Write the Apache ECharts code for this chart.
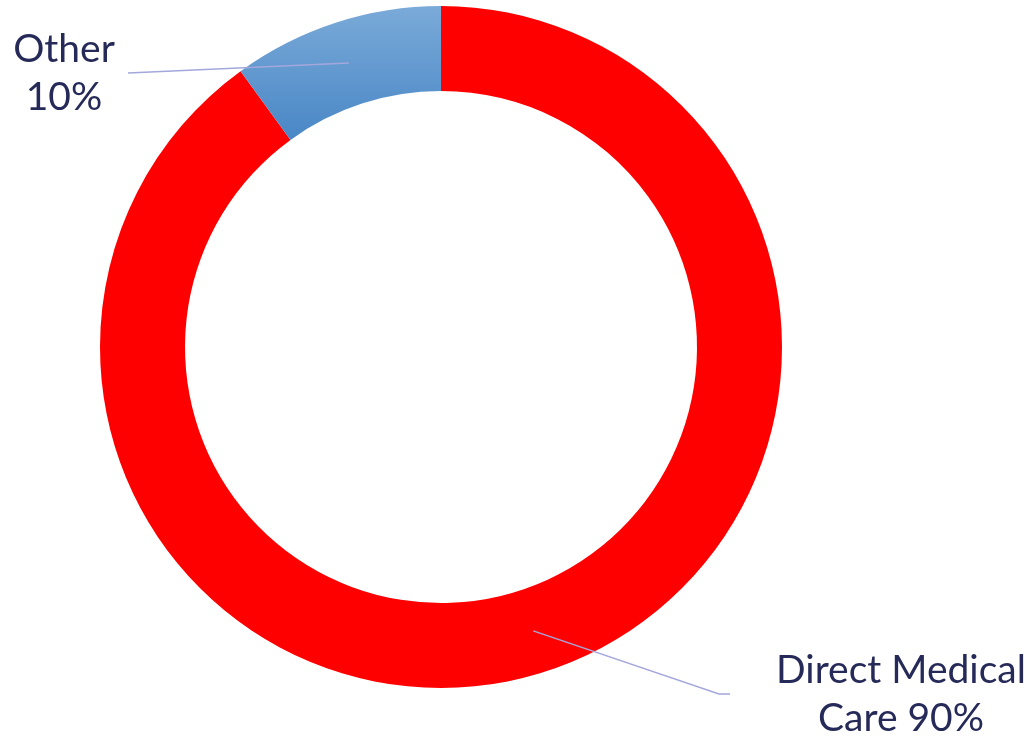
<!DOCTYPE html>
<html>
<head>
<meta charset="utf-8">
<script src="https://cdn.jsdelivr.net/npm/echarts@6/dist/echarts.min.js"></script>
<style>
  html, body { margin: 0; padding: 0; background: #fff; }
  #chart { width: 1036px; height: 738px; }
</style>
</head>
<body>
<div id="chart"></div>
<script>
// data
const categories = ['Direct Medical Care', 'Other']
const values = [90, 10]
const sliceColors = ['#ff0000', null] // Other uses a gradient

// ring geometry
const centerX = 441
const centerY = 347
const innerR = 256
const outerR = 341
const midR = (innerR + outerR) / 2

// label centres and leader line bends
const labelCentres = [[901, 694], [64, 73]]
const lineBends = [[[719, 694], [730, 694]], [[128, 73]]]

const total = values.reduce((a, b) => a + b, 0)

// mid point of a slice on the ring (start at 12 o'clock, clockwise)
const midPoint = (i) => {
  let before = 0
  for (let k = 0; k < i; k++) before += values[k]
  const deg = 90 - 360 * (before + values[i] / 2) / total
  const rad = deg * Math.PI / 180
  return [centerX + midR * Math.cos(rad), centerY - midR * Math.sin(rad)]
}

const otherGradient = new echarts.graphic.LinearGradient(0, 0, 0, 1, [
  { offset: 0, color: '#7aaad8' },
  { offset: 1, color: '#4987c6' }
])

const chart = echarts.init(document.getElementById('chart'))

const baseSeries = {
  type: 'pie',
  center: [centerX, centerY],
  radius: [innerR, outerR],
  startAngle: 90,
  clockwise: true,
  avoidLabelOverlap: false,
  silent: true,
  emphasis: { disabled: true }
}

const option = {
  animation: false,
  backgroundColor: '#ffffff',
  series: [
    // the ring itself
    Object.assign({}, baseSeries, {
      z: 2,
      itemStyle: { borderWidth: 0 },
      label: { show: false },
      labelLine: { show: false },
      data: categories.map((name, i) => ({
        name: name,
        value: values[i],
        itemStyle: { color: sliceColors[i] || otherGradient }
      }))
    }),
    // transparent copy on top, carries labels and leader lines over the ring
    Object.assign({}, baseSeries, {
      z: 5,
      itemStyle: { color: 'rgba(0,0,0,0)', borderWidth: 0 },
      label: {
        show: true,
        position: 'outside',
        fontFamily: 'Lato, "Open Sans", sans-serif',
        fontSize: 39,
        lineHeight: 48,
        color: '#262a58',
        align: 'center',
        formatter: (p) => {
          if (p.dataIndex === 0) return 'Direct Medical\nCare ' + p.percent + '%'
          return p.name + '\n' + p.percent + '%'
        }
      },
      labelLine: {
        show: true,
        lineStyle: { color: '#a4a7dc', width: 1.5 }
      },
      labelLayout: (params) => {
        const i = params.dataIndex
        return {
          x: labelCentres[i][0],
          y: labelCentres[i][1],
          align: 'center',
          verticalAlign: 'middle',
          labelLinePoints: [midPoint(i)].concat(lineBends[i])
        }
      },
      data: categories.map((name, i) => ({ name: name, value: values[i] }))
    })
  ]
}

chart.setOption(option)
</script>
</body>
</html>
